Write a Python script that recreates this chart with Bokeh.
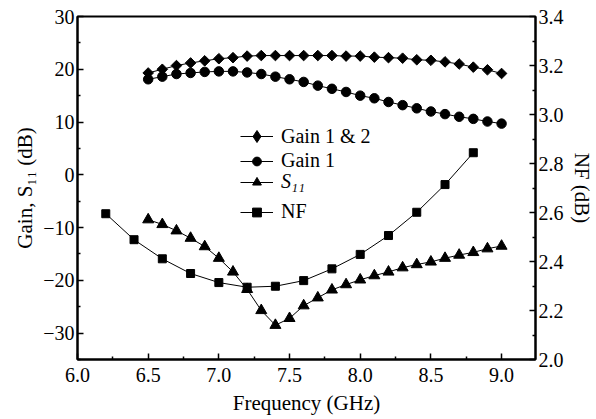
import math
from bokeh.plotting import figure
from bokeh.models import Range1d, LinearAxis, Legend, LegendItem, CustomJSTickFormatter, FixedTicker
from bokeh.embed import file_html
from bokeh.resources import INLINE

freq = [6.5, 6.6, 6.7, 6.8, 6.9, 7.0, 7.1, 7.2, 7.3, 7.4, 7.5, 7.6, 7.7, 7.8, 7.9,
        8.0, 8.1, 8.2, 8.3, 8.4, 8.5, 8.6, 8.7, 8.8, 8.9, 9.0]
gain12 = [19.3, 20.0, 20.7, 21.2, 21.6, 22.0, 22.2, 22.5, 22.6, 22.6, 22.6, 22.6, 22.6,
          22.6, 22.5, 22.5, 22.3, 22.2, 22.1, 21.8, 21.7, 21.4, 21.0, 20.4, 19.9, 19.2]
gain1 = [18.1, 18.6, 19.1, 19.3, 19.5, 19.6, 19.6, 19.4, 19.1, 18.6, 18.1, 17.6, 16.9,
         16.3, 15.7, 15.0, 14.5, 13.8, 13.2, 12.6, 12.0, 11.5, 11.0, 10.6, 10.1, 9.7]
s11 = [-8.5, -9.4, -10.6, -12.0, -13.6, -15.8, -18.4, -21.7, -25.7, -28.5, -27.2, -24.8,
       -23.3, -21.8, -20.8, -19.9, -19.1, -18.4, -17.6, -17.0, -16.5, -15.8, -15.2, -14.7,
       -14.0, -13.5]
nf_freq = [6.2, 6.4, 6.6, 6.8, 7.0, 7.2, 7.4, 7.6, 7.8, 8.0, 8.2, 8.4, 8.6, 8.8]
nf = [2.595, 2.489, 2.411, 2.351, 2.314, 2.295, 2.299, 2.322, 2.370, 2.429, 2.506,
      2.601, 2.714, 2.844]

x_ticks = [6.0, 6.5, 7.0, 7.5, 8.0, 8.5, 9.0]
left_ticks = [-30, -20, -10, 0, 10, 20, 30]
right_ticks = [2.0, 2.2, 2.4, 2.6, 2.8, 3.0, 3.2, 3.4]

FONT = "Liberation Serif"

p = figure(width=596, height=419, output_backend="svg", toolbar_location=None,
           x_range=Range1d(6.0, 9.24), y_range=Range1d(-35, 30),
           min_border_left=77, min_border_right=61, min_border_top=16, min_border_bottom=60)
p.extra_y_ranges = {"nf": Range1d(2.0, 3.4)}
p.grid.visible = False
p.background_fill_color = "white"
p.border_fill_color = "white"
p.outline_line_color = "black"
p.outline_line_width = 2

def style_axis(ax):
    ax.axis_line_color = "black"
    ax.axis_line_width = 2
    ax.major_tick_in = 6
    ax.major_tick_out = 0
    ax.minor_tick_in = 3
    ax.minor_tick_out = 0
    ax.major_tick_line_width = 1.5
    ax.minor_tick_line_width = 1.5
    ax.major_tick_line_color = "black"
    ax.minor_tick_line_color = "black"
    ax.major_label_text_font = FONT
    ax.major_label_text_font_size = "20px"
    ax.major_label_text_color = "black"
    ax.axis_label_text_font = FONT
    ax.axis_label_text_font_size = "21px"
    ax.axis_label_text_font_style = "normal"
    ax.axis_label_text_color = "black"
    ax.major_label_standoff = 3
    ax.axis_label_standoff = 3

xa = p.xaxis[0]
style_axis(xa)
xa.ticker = FixedTicker(ticks=x_ticks, minor_ticks=[6.25 + 0.5 * i for i in range(6)])
xa.formatter = CustomJSTickFormatter(code="return tick.toFixed(1)")
xa.axis_label = "Frequency (GHz)"
xa.major_label_standoff = 8
xa.axis_label_standoff = 6

ya = p.yaxis[0]
style_axis(ya)
ya.ticker = FixedTicker(ticks=left_ticks, minor_ticks=[-35, -25, -15, -5, 5, 15, 25])
ya.formatter = CustomJSTickFormatter(code="return tick.toFixed(0).replace('-', '\u2212')")
ya.axis_label = "Gain, S\u2081\u2081 (dB)"

ra = LinearAxis(y_range_name="nf")
style_axis(ra)
ra.ticker = FixedTicker(ticks=right_ticks, minor_ticks=[2.1, 2.3, 2.5, 2.7, 2.9, 3.1, 3.3])
ra.formatter = CustomJSTickFormatter(code="return tick.toFixed(1)")
ra.axis_label = "NF (dB)"
ra.axis_label_standoff = 3
p.add_layout(ra, "right")

l1 = p.line(freq, gain12, line_color="black", line_width=1)
m1 = p.scatter(freq, gain12, marker="square", angle=math.pi / 4, size=7.5,
               fill_color="black", line_color="black")
k1 = p.scatter(freq, gain12, marker="diamond", size=12, fill_color="black",
               line_color="black", visible=False)
l2 = p.line(freq, gain1, line_color="black", line_width=1)
m2 = p.scatter(freq, gain1, marker="circle", size=9.5, fill_color="black", line_color="black")
l3 = p.line(freq, s11, line_color="black", line_width=1)
m3 = p.scatter(freq, s11, marker="triangle", size=11, fill_color="black", line_color="black")
l4 = p.line(nf_freq, nf, line_color="black", line_width=1, y_range_name="nf")
m4 = p.scatter(nf_freq, nf, marker="square", size=8, fill_color="black", line_color="black",
               y_range_name="nf")

def make_legend(label, rends, y, italic=False, h=22):
    lg = Legend(items=[LegendItem(label=label, renderers=rends)], location=(163, y))
    lg.background_fill_alpha = 0
    lg.border_line_alpha = 0
    lg.padding = 0
    lg.margin = 0
    lg.spacing = 0
    lg.glyph_width = 33
    lg.glyph_height = h
    lg.label_height = h
    lg.label_standoff = 8
    lg.label_text_font = FONT
    lg.label_text_font_size = "20px"
    lg.label_text_color = "black"
    lg.label_text_font_style = "italic" if italic else "normal"
    p.add_layout(lg, "center")

make_legend("Gain 1 & 2", [l1, k1], 208, h=30)
make_legend("Gain 1", [l2, m2], 187)
make_legend("S\u2081\u2081", [l3, m3], 166, italic=True)
make_legend("NF", [l4, m4], 136)

open("out.html", "w").write(file_html(p, INLINE))
